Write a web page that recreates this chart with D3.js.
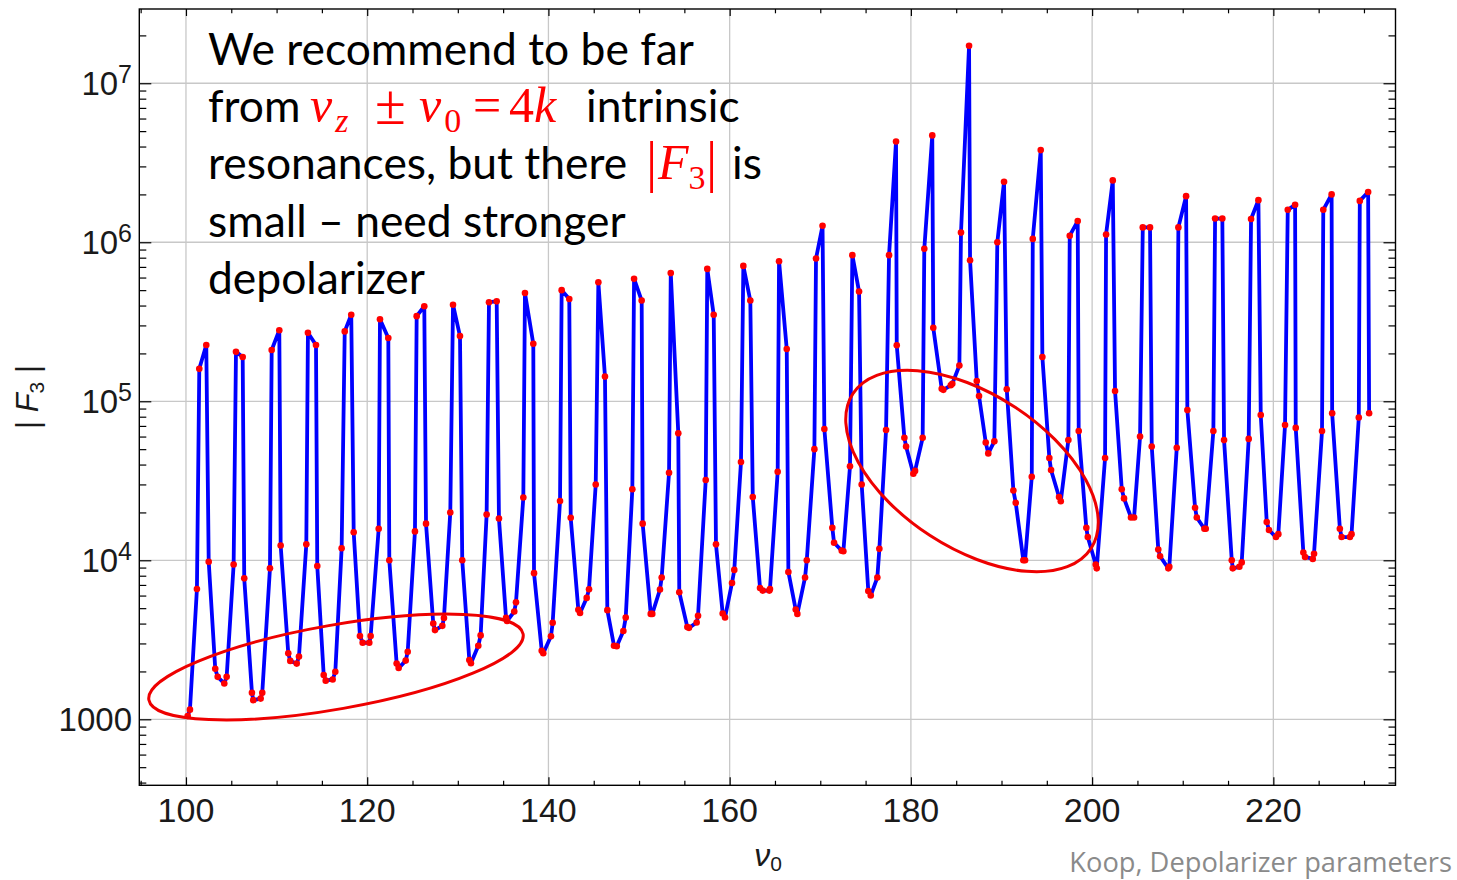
<!DOCTYPE html>
<html>
<head>
<meta charset="utf-8">
<script src="https://cdn.jsdelivr.net/npm/d3@7"></script>
<style>
  body { margin: 0; background: #fff; overflow: hidden; }
  svg { display: block; }
</style>
</head>
<body>
<div id="chart"></div>
<script>
// nu0 sample points (two samples per unit of nu0)
const nu0 = [
  100.19,100.44,101.21,101.47,102.24,102.51,103.23,103.50,104.23,104.49,
  105.26,105.52,106.26,106.43,107.28,107.43,108.24,108.42,109.27,109.46,
  110.30,110.45,111.29,111.51,112.22,112.47,113.28,113.46,114.35,114.49,
  115.20,115.42,116.19,116.48,117.18,117.52,118.24,118.51,119.20,119.50,
  120.23,120.38,121.27,121.41,122.33,122.44,123.25,123.47,124.25,124.47,
  125.27,125.46,126.30,126.49,127.29,127.48,128.29,128.47,129.17,129.47,
  130.24,130.49,131.27,131.45,132.26,132.52,133.18,133.44,134.29,134.54,
  135.32,135.43,136.23,136.42,137.23,137.41,138.33,138.41,139.26,139.43,
  140.28,140.47,141.28,141.46,142.30,142.46,143.30,143.49,144.22,144.48,
  145.22,145.51,146.24,146.50,147.24,147.54,148.27,148.53,149.26,149.45,
  150.29,150.40,151.29,151.46,152.31,152.50,153.31,153.50,154.33,154.44,
  155.33,155.51,156.36,156.51,157.36,157.53,158.24,158.49,159.23,159.49,
  160.26,160.51,161.25,161.51,162.28,162.55,163.35,163.65,164.38,164.45,
  165.30,165.45,166.30,166.48,167.29,167.47,168.32,168.51,169.35,169.53,
  170.25,170.45,171.33,171.52,172.37,172.55,173.28,173.54,174.28,174.57,
  175.30,175.57,176.30,176.52,177.26,177.59,178.36,178.44,179.28,179.47,
  180.27,180.46,181.30,181.48,182.36,182.47,183.40,183.58,184.40,184.57,
  185.35,185.53,186.42,186.53,187.27,187.52,188.26,188.54,189.21,189.54,
  190.28,190.58,191.31,191.57,192.41,192.60,193.34,193.45,194.33,194.51,
  195.28,195.47,196.35,196.54,197.38,197.53,198.41,198.52,199.36,199.52,
  200.40,200.51,201.43,201.54,202.28,202.53,203.27,203.52,204.29,204.63,
  205.29,205.59,206.39,206.58,207.30,207.50,208.41,208.52,209.34,209.52,
  210.37,210.51,211.36,211.55,212.39,212.54,213.38,213.57,214.37,214.56,
  215.41,215.52,216.25,216.51,217.28,217.54,218.35,218.61,219.27,219.52,
  220.29,220.55,221.29,221.59,222.40,222.47,223.31,223.50,224.35,224.49,
  225.37,225.51,226.43,226.49,227.34,227.53,228.45,228.63,229.43,229.54,
  230.46,230.57
];

// |F3| at each sample
const absF3 = [
  1050,1150, 6600,1.6e5, 2.26e5,9800, 2080,1850, 1680,1850,
  9400,2.05e5, 1.9e5,7700, 1470,1320, 1350,1470, 8900,2.1e5,
  2.8e5,1.24e4, 2600,2330, 2240,2480, 1.26e4,2.7e5, 2.26e5,9200,
  1900,1750, 1780,1990, 1.19e4,2.75e5, 3.5e5,1.5e4, 3340,3030,
  3030,3340, 1.58e4,3.28e5, 2.5e5,1.0e4, 2240,2100, 2340,2660,
  1.52e4,3.43e5, 3.96e5,1.7e4, 4000,3640, 3870,4340, 2.0e4,4.05e5,
  2.57e5,1.0e4, 2360,2250, 2900,3370, 1.94e4,4.2e5, 4.25e5,1.83e4,
  4350,4150, 4760,5440, 2.48e4,4.8e5, 2.3e5,8300, 2700,2600,
  3330,4050, 2.36e4,5.0e5, 4.4e5,1.85e4, 4880,4660, 5800,6580,
  3.0e4,5.6e5, 1.43e5,4860, 2900,2880, 3590,4360, 2.8e4,5.9e5,
  4.3e5,1.7e4, 4600,4600, 6550,7800, 3.55e4,6.4e5, 6.3e4,6300,
  3800,3760, 4060,4480, 3.2e4,6.8e5, 3.5e5,1.26e4, 4630,4370,
  7200,8700, 4.15e4,7.1e5, 4.3e5,2.5e4, 6700,6450, 6450,6600,
  3.6e4,7.6e5, 2.13e5,8450, 4900,4600, 7800,1.0e4, 5.0e4,7.9e5,
  1.27e6,6.7e4, 1.6e4,1.29e4, 1.15e4,1.14e4, 3.9e4,8.3e5, 4.9e5,3.0e4,
  6400,6000, 7800,1.18e4, 6.6e4,8.3e5, 4.3e6,2.25e5, 5.9e4,5.2e4,
  3.5e4,3.65e4, 5.9e4,9.1e5, 4.7e6,2.9e5, 1.2e5,1.18e5, 1.26e5,1.29e5,
  1.68e5,1.15e6, 1.72e7,7.7e5, 1.34e5,1.08e5, 5.5e4,4.7e4, 5.6e4,1.0e6,
  2.4e6,1.19e5, 2.75e4,2.3e4, 1.0e4,1.0e4, 3.35e4,1.05e6, 3.8e6,1.9e5,
  4.4e4,3.7e4, 2.5e4,2.35e4, 5.7e4,1.1e6, 1.36e6,6.5e4, 1.6e4,1.4e4,
  9400,8900, 4.4e4,1.12e6, 2.45e6,1.16e5, 2.8e4,2.45e4, 1.86e4,1.86e4,
  6.0e4,1.24e6, 1.24e6,5.2e4, 1.17e4,1.06e4, 8900,9100, 5.1e4,1.24e6,
  1.95e6,8.8e4, 2.14e4,1.86e4, 1.58e4,1.58e4, 6.5e4,1.41e6, 1.41e6,5.7e4,
  1.0e4,8900, 9100,9700, 5.8e4,1.4e6, 1.84e6,8.2e4, 1.74e4,1.55e4,
  1.4e4,1.46e4, 7.1e4,1.6e6, 1.72e6,6.8e4, 1.12e4,1.05e4, 1.02e4,1.1e4,
  6.5e4,1.6e6, 2.0e6,8.4e4, 1.58e4,1.4e4, 1.4e4,1.46e4, 7.9e4,1.82e6,
  2.07e6,8.4e4
];

const xTicks = [100, 120, 140, 160, 180, 200, 220];
const xTickLabels = ["100", "120", "140", "160", "180", "200", "220"];
const yTicks = [1e3, 1e4, 1e5, 1e6, 1e7];
const yTickBase = ["1000", "10", "10", "10", "10"];
const yTickExp = ["", "4", "5", "6", "7"];

function init() {
  const width = 1457, height = 880;
  const plot = {left: 139.3, right: 1395.5, top: 9, bottom: 785.3};

  const svg = d3.select("#chart")
    .append("svg")
    .attr("width", width)
    .attr("height", height);

  const x = d3.scaleLinear()
    .domain([94.85, 233.48])
    .range([plot.left, plot.right]);

  const y = d3.scaleLog()
    .domain([Math.pow(10, 2.585), Math.pow(10, 7.467)])
    .range([plot.bottom, plot.top]);

  // grid lines at the major ticks
  svg.append("g")
    .selectAll("line")
    .data(xTicks)
    .join("line")
    .attr("x1", d => x(d)).attr("x2", d => x(d))
    .attr("y1", plot.top).attr("y2", plot.bottom)
    .attr("stroke", "#c8c8c8")
    .attr("stroke-width", 1.3);

  svg.append("g")
    .selectAll("line")
    .data(yTicks)
    .join("line")
    .attr("x1", plot.left).attr("x2", plot.right)
    .attr("y1", d => y(d)).attr("y2", d => y(d))
    .attr("stroke", "#c8c8c8")
    .attr("stroke-width", 1.3);

  // the curve and its sample points
  const pts = nu0.map((v, i) => [v, absF3[i]]);
  const line = d3.line().x(d => x(d[0])).y(d => y(d[1]));

  svg.append("path")
    .datum(pts)
    .attr("d", line)
    .attr("fill", "none")
    .attr("stroke", "#0000ff")
    .attr("stroke-width", 3.8)
    .attr("stroke-linejoin", "round");

  svg.append("g")
    .selectAll("circle")
    .data(pts)
    .join("circle")
    .attr("cx", d => x(d[0]))
    .attr("cy", d => y(d[1]))
    .attr("r", 3.3)
    .attr("fill", "#ff0000");

  // frame ticks, all pointing inwards
  const xMinor = d3.range(95, 235, 5).filter(v => !xTicks.includes(v));
  const yMinor = y.ticks().filter(v => Math.abs(Math.log10(v) - Math.round(Math.log10(v))) > 1e-6);

  function tickRow(axis, vals, size, transform) {
    svg.append("g")
      .attr("transform", transform)
      .call(axis.tickValues(vals).tickSizeInner(size).tickSizeOuter(0).tickFormat(""))
      .call(g => g.select(".domain").remove())
      .call(g => g.selectAll("line").attr("stroke", "#000").attr("stroke-width", 1.2));
  }
  tickRow(d3.axisBottom(x), xTicks, -8, `translate(0,${plot.bottom})`);
  tickRow(d3.axisBottom(x), xMinor, -4.5, `translate(0,${plot.bottom})`);
  tickRow(d3.axisTop(x), xTicks, -7, `translate(0,${plot.top})`);
  tickRow(d3.axisTop(x), xMinor, -4.3, `translate(0,${plot.top})`);
  tickRow(d3.axisLeft(y), yTicks, -12, `translate(${plot.left},0)`);
  tickRow(d3.axisLeft(y), yMinor, -7, `translate(${plot.left},0)`);
  tickRow(d3.axisRight(y), yTicks, -12, `translate(${plot.right},0)`);
  tickRow(d3.axisRight(y), yMinor, -7, `translate(${plot.right},0)`);

  svg.append("rect")
    .attr("x", plot.left).attr("y", plot.top)
    .attr("width", plot.right - plot.left)
    .attr("height", plot.bottom - plot.top)
    .attr("fill", "none")
    .attr("stroke", "#000")
    .attr("stroke-width", 1.4);

  // tick labels
  svg.append("g")
    .selectAll("text")
    .data(xTicks)
    .join("text")
    .attr("x", d => x(d))
    .attr("y", 822)
    .attr("text-anchor", "middle")
    .attr("font-family", "'Liberation Sans', Arial, sans-serif")
    .attr("font-size", 34)
    .attr("fill", "#1a1a1a")
    .text((d, i) => xTickLabels[i]);

  const yl = svg.append("g")
    .selectAll("text")
    .data(yTicks)
    .join("text")
    .attr("x", 132)
    .attr("y", d => y(d) + 11.3)
    .attr("text-anchor", "end")
    .attr("font-family", "'Liberation Sans', Arial, sans-serif")
    .attr("font-size", 33)
    .attr("fill", "#1a1a1a");
  yl.append("tspan").text((d, i) => yTickBase[i]);
  yl.append("tspan")
    .attr("dy", -11.5)
    .attr("font-size", 25)
    .text((d, i) => yTickExp[i]);

  // axis titles
  svg.append("text")
    .attr("transform", "translate(38,397) rotate(-90)")
    .attr("text-anchor", "middle")
    .attr("font-family", "'Liberation Sans', Arial, sans-serif")
    .attr("font-size", 31)
    .attr("fill", "#1a1a1a")
    .call(t => {
      t.append("tspan").text("| ");
      t.append("tspan").attr("font-style", "italic").text("F");
      t.append("tspan").attr("font-size", 21).attr("dy", 6).text("3");
      t.append("tspan").attr("dy", -6).text(" |");
    });

  svg.append("text")
    .attr("x", 768)
    .attr("y", 866)
    .attr("text-anchor", "middle")
    .attr("font-family", "'Liberation Sans', Arial, sans-serif")
    .attr("font-size", 32)
    .attr("fill", "#1a1a1a")
    .call(t => {
      t.append("tspan").attr("font-style", "italic").text("ν");
      t.append("tspan").attr("font-size", 21).attr("dy", 5).text("0");
    });

  // red ellipses marking the low-|F3| regions
  svg.append("ellipse")
    .attr("transform", "translate(336,667) rotate(-10)")
    .attr("rx", 190).attr("ry", 42)
    .attr("fill", "none").attr("stroke", "#ee0000").attr("stroke-width", 3);

  svg.append("ellipse")
    .attr("transform", "translate(972,471) rotate(33)")
    .attr("rx", 142).attr("ry", 77)
    .attr("fill", "none").attr("stroke", "#ee0000").attr("stroke-width", 3);

  // annotation text
  const sansFont = "Lato, 'Open Sans', sans-serif";
  const mathFont = "'Liberation Serif', 'DejaVu Serif', serif";
  const probe = svg.append("text").attr("font-family", sansFont).attr("font-size", 47)
    .text("We recommend to be far");
  const fs = 47 * 486 / probe.node().getComputedTextLength();
  probe.remove();

  const red = "#ff0000";
  const plainLines = [
    {y: 65, t: "We recommend to be far", x: 208},
    {y: 122, t: "from", x: 208},
    {y: 122, t: "intrinsic", x: 586},
    {y: 179, t: "resonances, but there", x: 208},
    {y: 179, t: "is", x: 732},
    {y: 237, t: "small – need stronger", x: 208},
    {y: 294, t: "depolarizer", x: 208}
  ];

  svg.append("g")
    .selectAll("text")
    .data(plainLines)
    .join("text")
    .attr("x", d => d.x)
    .attr("y", d => d.y)
    .attr("font-family", sansFont)
    .attr("font-size", fs)
    .attr("fill", "#000")
    .text(d => d.t);

  // the red math pieces; subscripts follow their base glyph in the text flow
  const formulas = [
    {y: 122, parts: [
      {t: "ν", x: 310, it: true, size: 50, dy: 0},
      {t: "z", it: true, size: 34, dy: 10, dx: 3},
      {t: "±", x: 375, size: 56, dy: -8},
      {t: "ν", x: 419, it: true, size: 50, dy: -2},
      {t: "0", size: 34, dy: 10, dx: 3},
      {t: "=", x: 473, size: 50, dy: -10},
      {t: "4", x: 509, size: 50, dy: 0},
      {t: "k", it: true, size: 50, dy: 0}
    ]},
    {y: 181, parts: [
      {t: "|", x: 646, size: 56, dy: 0},
      {t: "F", x: 658, it: true, size: 50, dy: -2},
      {t: "3", size: 34, dy: 10},
      {t: "|", x: 706, size: 56, dy: -8}
    ]}
  ];

  const ft = svg.append("g")
    .selectAll("text")
    .data(formulas)
    .join("text")
    .attr("y", d => d.y)
    .attr("font-family", mathFont)
    .attr("fill", red);
  ft.selectAll("tspan")
    .data(d => d.parts)
    .join("tspan")
    .attr("x", d => d.x === undefined ? null : d.x)
    .attr("dx", d => d.dx || null)
    .attr("dy", d => d.dy)
    .attr("font-size", d => d.size)
    .attr("font-style", d => d.it ? "italic" : "normal")
    .text(d => d.t);

  // source note, fitted to the width it has in the slide
  const footFont = "'Open Sans', Lato, sans-serif";
  const foot = svg.append("text")
    .attr("x", 1452)
    .attr("y", 872)
    .attr("text-anchor", "end")
    .attr("font-family", footFont)
    .attr("font-size", 26)
    .attr("fill", "#8a8a8a")
    .text("Koop, Depolarizer parameters");
  const fw = foot.node().getComputedTextLength();
  foot.attr("font-size", 26 * 383 / fw);
}

window.onload = init;
</script>
</body>
</html>
